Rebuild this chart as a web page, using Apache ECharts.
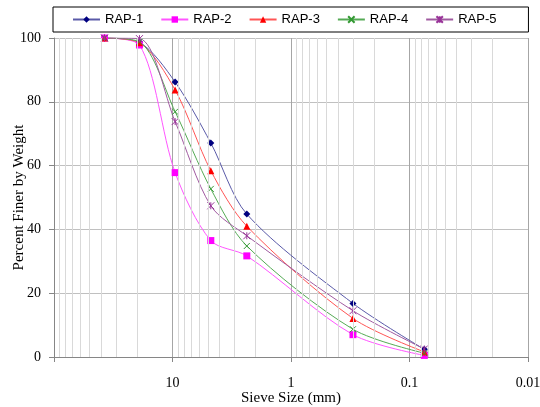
<!DOCTYPE html>
<html>
<head>
<meta charset="utf-8">
<script src="https://cdn.jsdelivr.net/npm/echarts@6/dist/echarts.min.js"></script>
<style>
  html, body { margin: 0; padding: 0; background: #fff; }
  #chart { width: 540px; height: 407px; }
</style>
</head>
<body>
<div id="chart"></div>
<script>
// sieve sizes (mm)
var sieves = [37.5, 19, 9.5, 4.75, 2.36, 0.3, 0.075];

var rap1 = [100, 98.6, 86.2, 67.1, 44.8, 16.8, 2.4];
var rap2 = [100, 97.8, 57.8, 36.5, 31.7, 7.0, 0.5];
var rap3 = [100, 98.5, 83.7, 58.4, 41.0, 12.1, 1.6];
var rap4 = [100, 98.8, 76.9, 52.7, 34.8, 8.7, 1.2];
var rap5 = [100, 99.8, 73.8, 47.4, 38.0, 14.5, 2.5];

// minor vertical grid lines (2..9 of each decade)
var minorTicks = [90, 80, 70, 60, 50, 40, 30, 20,
  9, 8, 7, 6, 5, 4, 3, 2,
  0.9, 0.8, 0.7, 0.6, 0.5, 0.4, 0.3, 0.2,
  0.09, 0.08, 0.07, 0.06, 0.05, 0.04, 0.03, 0.02];

function pairs(vals) {
  return sieves.map(function (s, i) { return [s, vals[i]]; });
}

var xPath = 'path://M0,0L10,10M10,0L0,10';
var starPath = 'path://M0,0L10,10M10,0L0,10M5,0L5,10';

var chart = echarts.init(document.getElementById('chart'));

function rapSeries(name, vals, lineColor, markColor, symbol, size, strokeOnly) {
  return {
    name: name,
    type: 'line',
    data: pairs(vals),
    smooth: 0.3,
    symbol: symbol,
    symbolSize: size,
    lineStyle: { color: lineColor, width: 1 },
    itemStyle: strokeOnly
      ? { color: 'transparent', borderColor: markColor, borderWidth: 1 }
      : { color: markColor, borderWidth: 0 },
    z: 3
  };
}

chart.setOption({
  animation: false,
  textStyle: { fontFamily: 'Liberation Serif' },
  grid: { left: 54, right: 12, top: 38, bottom: 50, containLabel: false, outerBoundsMode: 'none' },
  legend: {
    data: ['RAP-1', 'RAP-2', 'RAP-3', 'RAP-4', 'RAP-5'],
    left: 53,
    top: 7,
    itemWidth: 27,
    itemHeight: 8,
    itemGap: 17,
    padding: [6, 32, 6, 19],
    borderColor: '#000',
    borderWidth: 1,
    textStyle: { fontFamily: 'Liberation Sans', fontSize: 13, color: '#000' }
  },
  xAxis: {
    type: 'log',
    logBase: 10,
    min: 0.01,
    max: 100,
    inverse: true,
    name: 'Sieve Size (mm)',
    nameLocation: 'middle',
    nameGap: 34,
    nameMoveOverlap: false,
    nameTextStyle: { fontFamily: 'Liberation Serif', fontSize: 15, color: '#000' },
    axisLine: { lineStyle: { color: '#868686' } },
    axisTick: { show: true, length: 5, lineStyle: { color: '#868686' } },
    axisLabel: {
      fontFamily: 'Liberation Serif', fontSize: 14, color: '#000', margin: 19,
      formatter: function (v) { return v >= 100 ? '' : String(+v.toPrecision(3)); }
    },
    splitLine: { show: true, lineStyle: { color: '#a6a6a6', width: 1 } }
  },
  yAxis: {
    type: 'value',
    min: 0,
    max: 100,
    interval: 20,
    name: 'Percent Finer by Weight',
    nameLocation: 'middle',
    nameGap: 27,
    nameMoveOverlap: false,
    nameTextStyle: { fontFamily: 'Liberation Serif', fontSize: 15, color: '#000' },
    axisLine: { show: true, lineStyle: { color: '#868686' } },
    axisTick: { show: true, length: 5, lineStyle: { color: '#868686' } },
    axisLabel: { fontFamily: 'Liberation Serif', fontSize: 14, color: '#000', margin: 13 },
    splitLine: { show: true, lineStyle: { color: '#c0c0c0', width: 1 } }
  },
  series: [
    {
      name: 'minor',
      type: 'line',
      data: [],
      silent: true,
      z: 1,
      markLine: {
        silent: true,
        symbol: ['none', 'none'],
        label: { show: false },
        lineStyle: { color: '#d9d9d9', type: 'solid', width: 1 },
        data: minorTicks.map(function (v) { return { xAxis: v }; })
      }
    },
    rapSeries('RAP-1', rap1, '#5a5aa8', '#000080', 'diamond', 7, false),
    rapSeries('RAP-2', rap2, '#ff55ff', '#ff00ff', 'rect', 7, false),
    rapSeries('RAP-3', rap3, '#ff5555', '#ff0000', 'triangle', 7, false),
    rapSeries('RAP-4', rap4, '#55aa55', '#339933', xPath, 6, true),
    rapSeries('RAP-5', rap5, '#a05aa0', '#993399', starPath, 7, true)
  ]
});
</script>
</body>
</html>
